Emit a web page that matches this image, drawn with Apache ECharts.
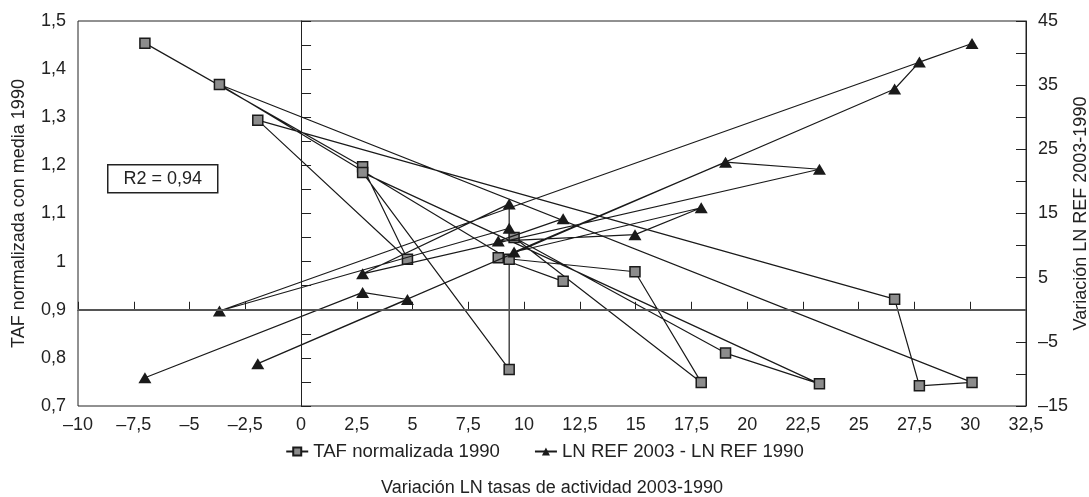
<!DOCTYPE html>
<html>
<head>
<meta charset="utf-8">
<script src="https://cdn.jsdelivr.net/npm/echarts@6/dist/echarts.min.js"></script>
<style>
html,body{margin:0;padding:0;background:#fff;}
#chart{width:1089px;height:497px;}
</style>
</head>
<body>
<div id="chart"></div>
<script>
// Data, in the order the points are joined
var xValues = [-7, 2.76, 4.77, -1.94, 26.61, 27.72, 30.08, -3.66, 9.33, 9.33, 2.76, 23.24, 19.03, 9.55, 17.94, 14.97, 8.84, 11.75];
var tafValues = [1.454, 1.197, 1.005, 1.294, 0.922, 0.742, 0.749, 1.368, 1.005, 0.776, 1.185, 0.746, 0.810, 1.050, 0.749, 0.979, 1.008, 0.959];
var lnRefValues = [-10.6, 2.7, 1.6, -8.4, 34.4, 38.6, 41.5, -0.2, 12.7, 16.5, 5.6, 21.9, 23.0, 9.0, 15.9, 11.7, 10.7, 14.2];
var seriesNames = ['TAF normalizada 1990', 'LN REF 2003 - LN REF 1990'];
var xAxisTitle = 'Variación LN tasas de actividad 2003-1990';
var leftAxisTitle = 'TAF normalizada con media 1990';
var rightAxisTitle = 'Variación LN REF 2003-1990';
var r2Label = 'R2 = 0,94';

function fmt(v) {
  var r = Math.round(v * 100) / 100;
  return String(r).replace('.', ',').replace('-', '\u2013');
}

var tafData = xValues.map(function (x, i) { return [x, tafValues[i]]; });
var lnData = xValues.map(function (x, i) { return [x, lnRefValues[i]]; });

var FONT = 'Liberation Sans';
var chart = echarts.init(document.getElementById('chart'));
chart.setOption({
  animation: false,
  backgroundColor: '#fff',
  textStyle: { fontFamily: FONT },
  grid: { left: 78, right: 63, top: 21, bottom: 91, show: true, borderColor: '#222', borderWidth: 1, containLabel: false, outerBoundsMode: 'none' },
  legend: {
    data: seriesNames,
    bottom: 31,
    left: 'center',
    itemWidth: 22,
    itemHeight: 10,
    itemGap: 34,
    textStyle: { fontFamily: FONT, fontSize: 18.6, color: '#222' }
  },
  xAxis: {
    type: 'value', min: -10, max: 32.5, interval: 2.5,
    name: xAxisTitle, nameLocation: 'middle', nameGap: 73, nameMoveOverlap: false,
    nameTextStyle: { fontFamily: FONT, fontSize: 18, color: '#222' },
    axisLine: { lineStyle: { color: '#222', width: 1 } },
    axisTick: { inside: true, length: 8, lineStyle: { color: '#222' } },
    axisLabel: { formatter: fmt, fontSize: 18, color: '#222', margin: 10, fontFamily: FONT },
    splitLine: { show: false }
  },
  yAxis: [{
    type: 'value', min: 0.7, max: 1.5, interval: 0.1,
    name: leftAxisTitle, nameLocation: 'middle', nameGap: 50, nameRotate: 90, nameMoveOverlap: false,
    nameTextStyle: { fontFamily: FONT, fontSize: 18, color: '#222' },
    axisLine: { show: true, lineStyle: { color: '#222', width: 1 } },
    axisTick: { show: true, inside: true, length: 10, lineStyle: { color: '#222' } },
    minorTick: { show: true, splitNumber: 2, length: 10, lineStyle: { color: '#222' } },
    axisLabel: { formatter: fmt, fontSize: 18, color: '#222', margin: 12, fontFamily: FONT },
    splitLine: { show: false }
  }, {
    type: 'value', min: -15, max: 45, interval: 10, position: 'right',
    name: rightAxisTitle, nameLocation: 'middle', nameGap: 46, nameRotate: 90, nameMoveOverlap: false,
    nameTextStyle: { fontFamily: FONT, fontSize: 18, color: '#222' },
    axisLine: { show: true, lineStyle: { color: '#222', width: 1 } },
    axisTick: { show: true, inside: true, length: 10, lineStyle: { color: '#222' } },
    minorTick: { show: true, splitNumber: 2, length: 10, lineStyle: { color: '#222' } },
    axisLabel: { formatter: fmt, fontSize: 18, color: '#222', margin: 12, fontFamily: FONT },
    splitLine: { show: false }
  }],
  series: [{
    name: seriesNames[0],
    type: 'line',
    yAxisIndex: 0,
    data: tafData,
    symbol: 'rect',
    symbolSize: 10,
    lineStyle: { color: '#1a1a1a', width: 1.2 },
    itemStyle: { color: '#8c8c8c', borderColor: '#1a1a1a', borderWidth: 1.5 },
    z: 3,
    markLine: {
      silent: true, symbol: 'none', label: { show: false },
      data: [
        { yAxis: 0.9, lineStyle: { color: '#555', width: 2, type: 'solid' } },
        { xAxis: 0, lineStyle: { color: '#222', width: 1, type: 'solid' } }
      ]
    }
  }, {
    name: seriesNames[1],
    type: 'line',
    yAxisIndex: 1,
    data: lnData,
    symbol: 'triangle',
    symbolSize: [13, 11],
    lineStyle: { color: '#1a1a1a', width: 1.2 },
    itemStyle: { color: '#1a1a1a', borderColor: '#1a1a1a', borderWidth: 0 },
    z: 4
  }],
  graphic: [{
    type: 'group', left: 107, top: 164,
    children: [{
      type: 'rect', shape: { x: 0, y: 0, width: 110, height: 28 },
      style: { fill: '#fff', stroke: '#222', lineWidth: 1.5 }
    }, {
      type: 'text', x: 55, y: 14,
      style: { text: r2Label, font: '18px "Liberation Sans"', fill: '#222', textAlign: 'center', textVerticalAlign: 'middle' }
    }]
  }]
});
</script>
</body>
</html>
